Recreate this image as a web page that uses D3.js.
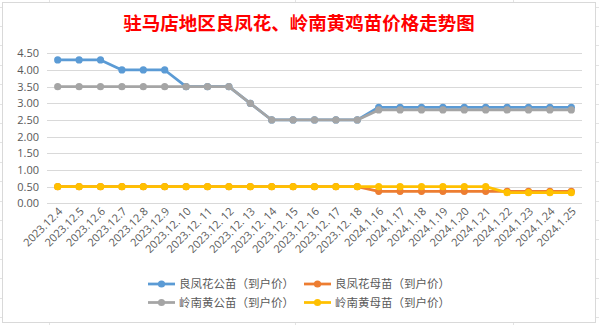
<!DOCTYPE html>
<html><head><meta charset="utf-8">
<script src="https://cdn.jsdelivr.net/npm/d3@7"></script>
<style>body{margin:0;background:#fff}svg{display:block}</style>
</head><body><svg id="c" width="599" height="325"></svg>
<script>
const title = "驻马店地区良凤花、岭南黄鸡苗价格走势图";
const categories = ["2023.12.4","2023.12.5","2023.12.6","2023.12.7","2023.12.8","2023.12.9","2023.12. 10","2023.12. 11","2023.12. 12","2023.12. 13","2023.12. 14","2023.12. 15","2023.12. 16","2023.12. 17","2023.12. 18","2024.1.16","2024.1.17","2024.1.18","2024.1.19","2024.1.20","2024.1.21","2024.1.22","2024.1.23","2024.1.24","2024.1.25"];
const seriesNames = ["良凤花公苗（到户价）","良凤花母苗（到户价）","岭南黄公苗（到户价）","岭南黄母苗（到户价）"];
const seriesColors = ["#5B9BD5","#ED7D31","#A5A5A5","#FFC000"];
const lfhMale   = [4.3,4.3,4.3,4.0,4.0,4.0,3.5,3.5,3.5,3.0,2.5,2.5,2.5,2.5,2.5,2.88,2.88,2.88,2.88,2.88,2.88,2.88,2.88,2.88,2.88];
const lfhFemale = [0.5,0.5,0.5,0.5,0.5,0.5,0.5,0.5,0.5,0.5,0.5,0.5,0.5,0.5,0.5,0.36,0.36,0.36,0.36,0.36,0.36,0.36,0.36,0.36,0.36];
const lnhMale   = [3.5,3.5,3.5,3.5,3.5,3.5,3.5,3.5,3.5,3.0,2.5,2.5,2.5,2.5,2.5,2.8,2.8,2.8,2.8,2.8,2.8,2.8,2.8,2.8,2.8];
const lnhFemale = [0.5,0.5,0.5,0.5,0.5,0.5,0.5,0.5,0.5,0.5,0.5,0.5,0.5,0.5,0.5,0.5,0.5,0.5,0.5,0.5,0.5,0.32,0.32,0.32,0.32];
const yTicks = [0,0.5,1,1.5,2,2.5,3,3.5,4,4.5];

const series = [lfhMale, lfhFemale, lnhMale, lnhFemale];
const svg = d3.select("#c");
const W = 599, H = 325;

// spreadsheet background lines outside the chart
const bg = svg.append("g").attr("stroke","#E3E3E3").attr("stroke-width",1);
for (let y = 6.5; y < H; y += 19.4) {
  bg.append("line").attr("x1",0).attr("x2",2).attr("y1",Math.round(y)+0.5).attr("y2",Math.round(y)+0.5);
  bg.append("line").attr("x1",596).attr("x2",599).attr("y1",Math.round(y)+0.5).attr("y2",Math.round(y)+0.5);
}
[49.5, 295.5, 513.5].forEach(x => {
  bg.append("line").attr("x1",x).attr("x2",x).attr("y1",0).attr("y2",2);
  bg.append("line").attr("x1",x).attr("x2",x).attr("y1",323).attr("y2",325);
});

// chart frame
svg.append("rect").attr("x",2.5).attr("y",2.5).attr("width",593).attr("height",320)
  .attr("fill","#fff").attr("stroke","#D9D9D9").attr("stroke-width",1);

// title
svg.append("text").attr("x",299).attr("y",30).attr("text-anchor","middle")
  .attr("font-family","'Noto Sans CJK SC', sans-serif").attr("font-weight","bold")
  .attr("font-size",18.5).attr("fill","#FF0000").text(title);

const x = d3.scalePoint().domain(categories).range([47, 582]).padding(0.5);
const y = d3.scaleLinear().domain([0, 4.5]).range([203.3, 53.3]);

// grid
const grid = svg.append("g");
grid.selectAll("line").data(yTicks).join("line")
  .attr("x1",47).attr("x2",582)
  .attr("y1",d=>Math.round(y(d))+0.5).attr("y2",d=>Math.round(y(d))+0.5)
  .attr("stroke","#D9D9D9").attr("stroke-width",1);

// y axis
const yAxis = svg.append("g").attr("transform","translate(39,0)")
  .call(d3.axisLeft(y).tickValues(yTicks).tickFormat(d3.format(".2f")).tickSize(0).tickPadding(0));
yAxis.select(".domain").remove();
yAxis.selectAll("text").attr("font-family","'Open Sans', sans-serif").attr("font-size",11).attr("fill","#595959");

// x axis
const xAxis = svg.append("g").attr("transform","translate(0,203)")
  .call(d3.axisBottom(x).tickSize(0).tickPadding(0));
xAxis.select(".domain").remove();
xAxis.selectAll("text")
  .attr("font-family","'Open Sans', sans-serif").attr("font-size",11).attr("fill","#595959")
  .attr("text-anchor","end").attr("dy",null)
  .attr("transform","translate(5,9) rotate(-45)");

// lines
const line = d3.line().x((d,i)=>x(categories[i])).y(d=>y(d));
series.forEach((s, k) => {
  const g = svg.append("g");
  g.append("path").datum(s).attr("d", line).attr("fill","none")
    .attr("stroke", seriesColors[k]).attr("stroke-width",2.75).attr("stroke-linejoin","round");
  g.selectAll("circle").data(s).join("circle")
    .attr("cx",(d,i)=>x(categories[i])).attr("cy",d=>y(d)).attr("r",3.6)
    .attr("fill", seriesColors[k]);
});

// legend
const legPos = [[148,284],[304,284],[148,302.5],[304,302.5]];
seriesNames.forEach((n,k) => {
  const [lx, ly] = legPos[k];
  const g = svg.append("g");
  g.append("line").attr("x1",lx).attr("x2",lx+27).attr("y1",ly).attr("y2",ly)
    .attr("stroke",seriesColors[k]).attr("stroke-width",2.75);
  g.append("circle").attr("cx",lx+13.5).attr("cy",ly).attr("r",3.6).attr("fill",seriesColors[k]);
  g.append("text").attr("x",lx+31).attr("y",ly+4).attr("font-family","'Noto Sans CJK SC', sans-serif")
    .attr("font-size",11.5).attr("fill","#595959").text(n);
});
</script></body></html>
